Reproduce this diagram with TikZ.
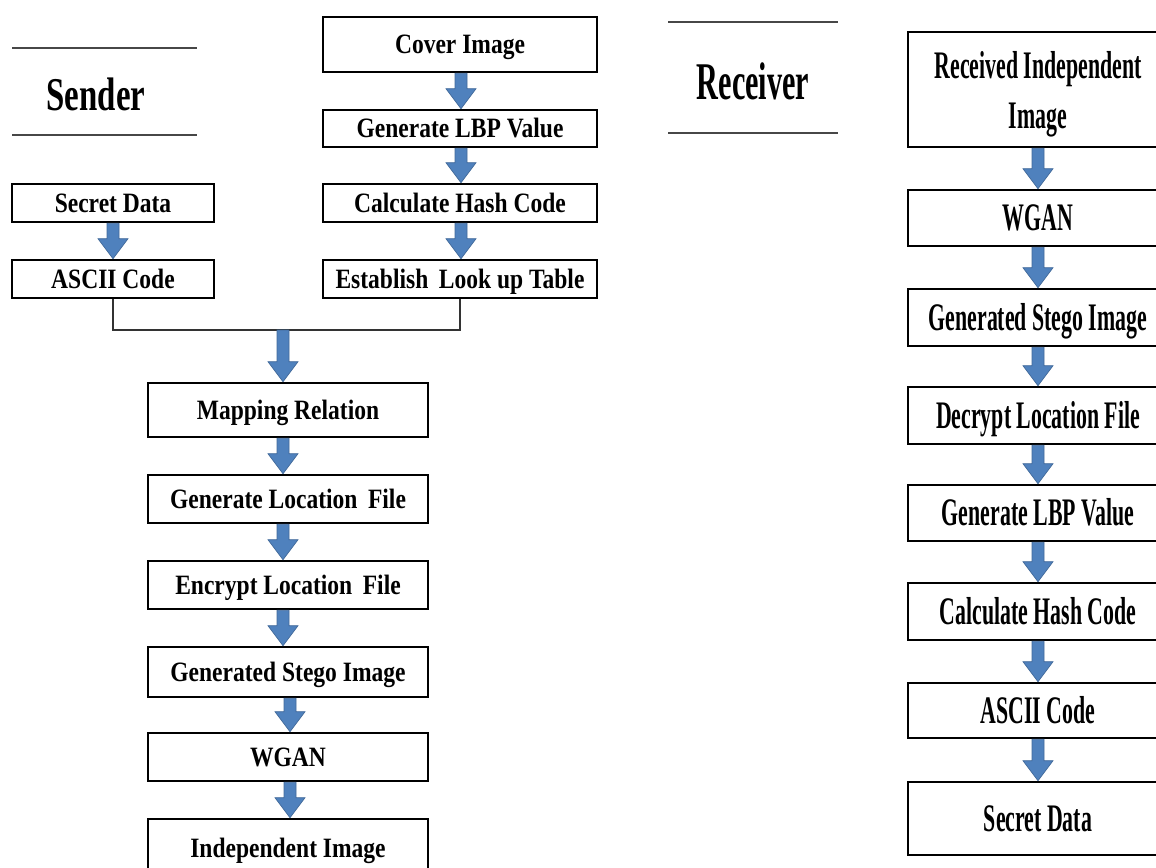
\documentclass[tikz,border=0pt]{standalone}
\usepackage{fontspec}
\setmainfont{Liberation Serif}
\newfontfamily\sfnt[FakeStretch=0.84]{Liberation Serif}
\newfontfamily\rfnt[FakeStretch=0.56]{Liberation Serif}
\newfontfamily\shfnt[FakeStretch=0.70]{Liberation Serif}
\newfontfamily\rhfnt[FakeStretch=0.57]{Liberation Serif}
\definecolor{arrowblue}{HTML}{4F81BD}
\definecolor{arrowedge}{HTML}{41699A}
\tikzset{
  boxbase/.style={draw=black, line width=2.6pt, fill=white, inner sep=0pt, align=center},
  stext/.style={font=\sfnt\bfseries\fontsize{28}{30}\selectfont, text height=18.5pt, text depth=0pt},
  rtext/.style={font=\rfnt\bfseries\fontsize{39}{50}\selectfont, text height=25.7pt, text depth=0pt},
  sbox/.style={boxbase, stext, minimum width=274pt},
  lbox/.style={boxbase, stext, minimum width=202pt},
  mbox/.style={boxbase, stext, minimum width=280pt},
  rbox/.style={boxbase, rtext, minimum width=260pt},
  rbigbox/.style={boxbase, minimum width=260pt, font=\rfnt\bfseries\fontsize{39}{50}\selectfont, text depth=0pt},
  headline/.style={draw=black!72, line width=2.2pt},
  joinline/.style={draw=black!80, line width=1.4pt},
  flowfill/.style={fill=arrowblue, draw=arrowedge, line width=0.7pt, line join=miter},
}
% #1 = x offset, #2 = from node, #3 = to node
\newcommand\flowarrow[3][0pt]{%
  \filldraw[flowfill]
    ([xshift=#1-6pt]#2.south) -- ([xshift=#1+6pt]#2.south)
    -- ([xshift=#1+6pt,yshift=20pt]#3.north) -- ([xshift=#1+15pt,yshift=20pt]#3.north)
    -- ([xshift=#1]#3.north)
    -- ([xshift=#1-15pt,yshift=20pt]#3.north) -- ([xshift=#1-6pt,yshift=20pt]#3.north)
    -- cycle;}
\begin{document}
\begin{tikzpicture}[x=1pt,y=-1pt]
\useasboundingbox (0,0) rectangle (1156,867);
\clip (0,0) rectangle (1156,867);
\fill[white] (0,0) rectangle (1156,867);

% ---- Sender heading
\draw[headline] (12,48) -- (197,48);
\draw[headline] (12,135) -- (197,135);
\node[font=\shfnt\bfseries\fontsize{47}{50}\selectfont, inner sep=0pt] (sender) at (96,94) {Sender};

% ---- Sender right column
\node[sbox, minimum height=55pt] (cover) at (460,44.5) {Cover Image};
\node[sbox, minimum height=37pt] (lbp) at (460,128.5) {Generate LBP Value};
\node[sbox, minimum height=38pt] (hash) at (460,203) {Calculate Hash Code};
\node[sbox, minimum height=38pt] (table) at (460,279) {Establish\, Look up Table};

% ---- Sender left column
\node[lbox, minimum height=38pt] (secret) at (113,203) {Secret Data};
\node[lbox, minimum height=38pt] (ascii) at (113,279) {ASCII Code};

% ---- join
\coordinate (join) at (283,330);
\draw[joinline] (ascii.south) |- (join) -| (table.south);

% ---- Sender lower column
\node[mbox, minimum height=54pt] (map) at (288,410) {Mapping Relation};
\node[mbox, minimum height=48pt] (genloc) at (288,499) {Generate Location\, File};
\node[mbox, minimum height=48pt] (encloc) at (288,585) {Encrypt Location\, File};
\node[mbox, minimum height=50pt] (stego) at (288,672) {Generated Stego Image};
\node[mbox, minimum height=48pt] (wgan) at (288,757) {WGAN};
\node[mbox, minimum height=58pt] (indep) at (288,848) {Independent Image};

% ---- Receiver heading
\draw[headline] (668,22) -- (838,22);
\draw[headline] (668,133) -- (838,133);
\node[font=\rhfnt\bfseries\fontsize{53}{56}\selectfont, inner sep=0pt] (receiver) at (753,81) {Receiver};

% ---- Receiver column
\node[rbigbox, minimum height=115pt] (rrecv) at (1038,89.5) {Received Independent\\Image};
\node[rbox, minimum height=56pt] (rwgan) at (1038,218) {WGAN};
\node[rbox, minimum height=57pt] (rstego) at (1038,317.5) {Generated Stego Image};
\node[rbox, minimum height=57pt] (rdec) at (1038,415.5) {Decrypt Location File};
\node[rbox, minimum height=56pt] (rlbp) at (1038,513) {Generate LBP Value};
\node[rbox, minimum height=57pt] (rhash) at (1038,611.5) {Calculate Hash Code};
\node[rbox, minimum height=55pt] (rascii) at (1038,710.5) {ASCII Code};
\node[rbox, minimum height=73pt] (rsecret) at (1038,818.5) {Secret Data};

% ---- flow arrows
\flowarrow[1pt]{cover}{lbp}
\flowarrow[1pt]{lbp}{hash}
\flowarrow[1pt]{hash}{table}
\flowarrow{secret}{ascii}
\filldraw[flowfill]
    ([xshift=-6pt]join) -- ([xshift=6pt]join)
    -- ([xshift=1pt,yshift=20pt]map.north) -- ([xshift=10pt,yshift=20pt]map.north)
    -- ([xshift=-5pt]map.north)
    -- ([xshift=-20pt,yshift=20pt]map.north) -- ([xshift=-11pt,yshift=20pt]map.north)
    -- cycle;
\flowarrow[-5pt]{map}{genloc}
\flowarrow[-5pt]{genloc}{encloc}
\flowarrow[-5pt]{encloc}{stego}
\flowarrow[2pt]{stego}{wgan}
\flowarrow[2pt]{wgan}{indep}

\flowarrow{rrecv}{rwgan}
\flowarrow{rwgan}{rstego}
\flowarrow{rstego}{rdec}
\flowarrow{rdec}{rlbp}
\flowarrow{rlbp}{rhash}
\flowarrow{rhash}{rascii}
\flowarrow{rascii}{rsecret}
\end{tikzpicture}
\end{document}
